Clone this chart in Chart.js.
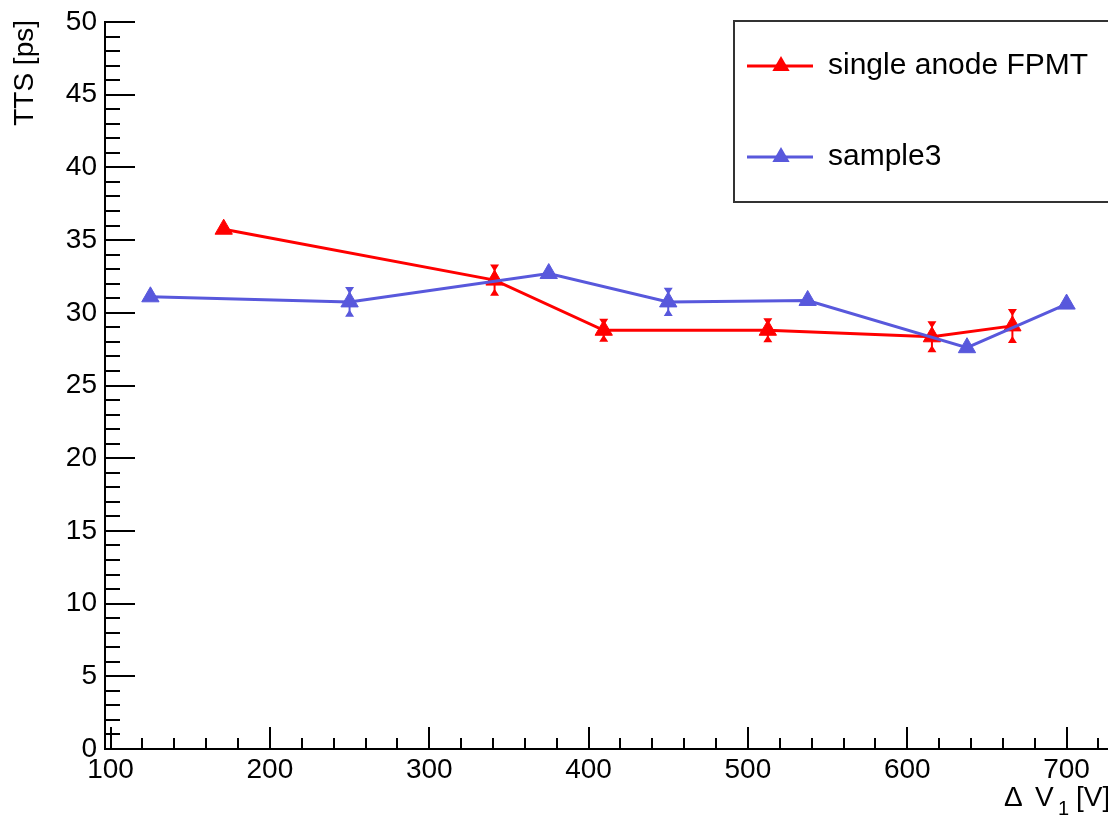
<!DOCTYPE html>
<html>
<head>
<meta charset="utf-8">
<script src="https://cdn.jsdelivr.net/npm/chart.js@4.4.1/dist/chart.umd.min.js"></script>
<style>
  html, body { margin: 0; padding: 0; background: #fff; }
  #wrap { width: 1108px; height: 816px; }
</style>
</head>
<body>
<div id="wrap"><canvas id="tts-chart" width="1108" height="816"></canvas></div>
<script>
// single anode FPMT
const fpmtV = [171, 341, 409.5, 512.5, 615.5, 666];
const fpmtTTS = [35.75, 32.25, 28.8, 28.8, 28.35, 29.1];
const fpmtErr = [0, 1.0, 0.72, 0.76, 1.0, 1.1];

// sample3
const sampleV = [125, 250, 375, 450, 537.5, 637.5, 700];
const sampleTTS = [31.1, 30.75, 32.7, 30.75, 30.85, 27.6, 30.6];
const sampleErr = [0, 0.96, 0, 0.9, 0, 0, 0];

const xTickLabels = [100, 200, 300, 400, 500, 600, 700];
const yTickLabels = [0, 5, 10, 15, 20, 25, 30, 35, 40, 45, 50];
const xMinorStep = 20;
const yMinorStep = 1;

const FONT = '"Liberation Sans", Arial, Helvetica, sans-serif';
const RED = 'rgb(255, 0, 0)';
const BLUE = 'rgb(88, 88, 220)';

function toPoints(xs, ys) {
    return xs.map((v, i) => ({ x: v, y: ys[i] }));
}

// ROOT style ticks, drawn inside the frame
const rootTicks = {
    id: 'rootTicks',
    afterDatasetsDraw(chart) {
        const { ctx, chartArea, scales: { x, y } } = chart;
        ctx.save();
        ctx.strokeStyle = '#000';
        ctx.lineWidth = 2;
        ctx.beginPath();
        for (let v = xTickLabels[0]; v <= x.max; v += xMinorStep) {
            const px = Math.round(x.getPixelForValue(v));
            const len = xTickLabels.includes(v) ? 22 : 11;
            ctx.moveTo(px, chartArea.bottom);
            ctx.lineTo(px, chartArea.bottom - len);
        }
        for (let v = yTickLabels[0]; v <= y.max; v += yMinorStep) {
            const py = Math.round(y.getPixelForValue(v));
            const len = yTickLabels.includes(v) ? 30 : 15;
            ctx.moveTo(chartArea.left, py);
            ctx.lineTo(chartArea.left + len, py);
        }
        ctx.stroke();
        ctx.restore();
    }
};

// vertical error bars with small triangle ends
const errorBars = {
    id: 'errorBars',
    beforeDatasetsDraw(chart) {
        const { ctx, scales: { x, y } } = chart;
        ctx.save();
        chart.data.datasets.forEach(ds => {
            ctx.strokeStyle = ds.borderColor;
            ctx.fillStyle = ds.borderColor;
            ctx.lineWidth = 2;
            ds.data.forEach((p, i) => {
                const e = ds.errors[i];
                if (!e) return;
                const px = x.getPixelForValue(p.x);
                const top = y.getPixelForValue(p.y + e);
                const bot = y.getPixelForValue(p.y - e);
                ctx.beginPath();
                ctx.moveTo(px, top);
                ctx.lineTo(px, bot);
                ctx.stroke();
                ctx.beginPath();
                ctx.moveTo(px - 4.5, top - 1);
                ctx.lineTo(px + 4.5, top - 1);
                ctx.lineTo(px, top + 6);
                ctx.closePath();
                ctx.moveTo(px - 4.5, bot + 1);
                ctx.lineTo(px + 4.5, bot + 1);
                ctx.lineTo(px, bot - 6);
                ctx.closePath();
                ctx.fill();
            });
        });
        ctx.restore();
    }
};

function triangle(ctx, cx, cy, r) {
    ctx.beginPath();
    ctx.moveTo(cx, cy - r);
    ctx.lineTo(cx + r * Math.sqrt(3) / 2, cy + r / 2);
    ctx.lineTo(cx - r * Math.sqrt(3) / 2, cy + r / 2);
    ctx.closePath();
    ctx.fill();
}

// legend box and axis titles
const legendAndTitles = {
    id: 'legendAndTitles',
    afterDraw(chart) {
        const ctx = chart.ctx;
        ctx.save();

        ctx.fillStyle = '#fff';
        ctx.fillRect(733, 21, 400, 181);
        ctx.strokeStyle = '#333';
        ctx.lineWidth = 2;
        ctx.strokeRect(734, 21, 400, 181);

        const rows = [66, 157];
        chart.data.datasets.forEach((ds, k) => {
            const yy = rows[k];
            ctx.strokeStyle = ds.borderColor;
            ctx.lineWidth = 3;
            ctx.beginPath();
            ctx.moveTo(747, yy);
            ctx.lineTo(813, yy);
            ctx.stroke();
            ctx.fillStyle = ds.borderColor;
            triangle(ctx, 781, yy, 10);
            ctx.fillStyle = '#000';
            ctx.font = '30px ' + FONT;
            ctx.textAlign = 'left';
            ctx.textBaseline = 'alphabetic';
            ctx.fillText(ds.label, 828, yy + 8);
        });

        // y title
        ctx.fillStyle = '#000';
        ctx.font = '28px ' + FONT;
        ctx.save();
        ctx.translate(33, 20);
        ctx.rotate(-Math.PI / 2);
        ctx.textAlign = 'right';
        ctx.textBaseline = 'alphabetic';
        ctx.fillText('TTS [ps]', 0, 0);
        ctx.restore();

        // x title
        ctx.textAlign = 'left';
        ctx.textBaseline = 'alphabetic';
        ctx.font = '28px ' + FONT;
        ctx.fillText('\u0394', 1004, 806);
        ctx.fillText('V', 1035, 806);
        ctx.font = '20px ' + FONT;
        ctx.fillText('1', 1058, 815);
        ctx.font = '28px ' + FONT;
        ctx.fillText('[V]', 1076, 806);

        ctx.restore();
    }
};

window.onload = function () {
    const ctx = document.getElementById('tts-chart').getContext('2d');
    new Chart(ctx, {
        type: 'line',
        data: {
            datasets: [{
                label: 'single anode FPMT',
                data: toPoints(fpmtV, fpmtTTS),
                errors: fpmtErr,
                borderColor: RED,
                backgroundColor: RED,
                borderWidth: 3,
                pointStyle: 'triangle',
                pointRadius: 10,
                pointBorderWidth: 1,
                pointBackgroundColor: RED,
                tension: 0,
                fill: false,
                order: 1
            },
            {
                label: 'sample3',
                data: toPoints(sampleV, sampleTTS),
                errors: sampleErr,
                borderColor: BLUE,
                backgroundColor: BLUE,
                borderWidth: 3,
                pointStyle: 'triangle',
                pointRadius: 10,
                pointBorderWidth: 1,
                pointBackgroundColor: BLUE,
                tension: 0,
                fill: false,
                order: 0
            }]
        },
        options: {
            responsive: false,
            animation: false,
            devicePixelRatio: 1,
            layout: { autoPadding: false, padding: { top: 22, right: 0, left: 0, bottom: 0 } },
            plugins: {
                legend: { display: false },
                tooltip: { enabled: false }
            },
            scales: {
                x: {
                    type: 'linear',
                    min: 96.5,
                    max: 726,
                    afterBuildTicks: s => { s.ticks = xTickLabels.map(v => ({ value: v })); },
                    afterFit: s => { s.height = 67; s.paddingLeft = 0; s.paddingRight = 0; },
                    grid: { display: false, drawTicks: false },
                    border: { display: true, color: '#000', width: 2 },
                    ticks: {
                        color: '#000',
                        font: { family: FONT, size: 28 },
                        padding: 4,
                        maxRotation: 0,
                        autoSkip: false
                    }
                },
                y: {
                    type: 'linear',
                    min: 0,
                    max: 50,
                    afterBuildTicks: s => { s.ticks = yTickLabels.map(v => ({ value: v })); },
                    afterFit: s => { s.width = 105; s.paddingTop = 0; s.paddingBottom = 0; },
                    grid: { display: false, drawTicks: false },
                    border: { display: true, color: '#000', width: 2 },
                    ticks: {
                        color: '#000',
                        font: { family: FONT, size: 28 },
                        padding: 8,
                        autoSkip: false
                    }
                }
            }
        },
        plugins: [errorBars, rootTicks, legendAndTitles]
    });
};
</script>
</body>
</html>
